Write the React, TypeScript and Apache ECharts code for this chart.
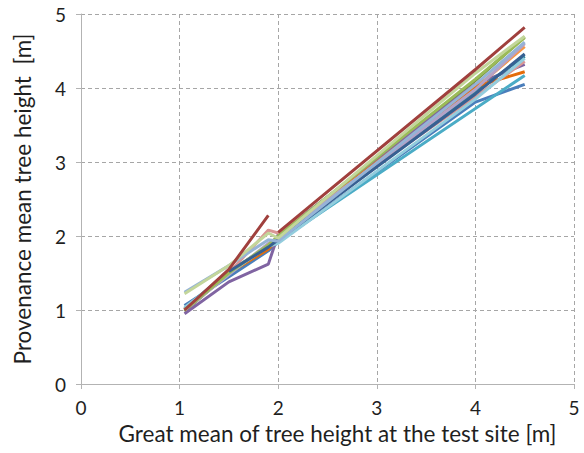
import React, { useEffect, useRef } from "react";
import * as echarts from "echarts";

const SITES = [1.05, 1.5, 1.9, 2.0, 4.0, 4.5];
const TICKS = [0, 1, 2, 3, 4, 5];

type S = { name: string; color: string; y: (number | null)[] };

const SERIES: S[] = [
  { name: "P1", color: "#4A7EBB", y: [1.06, 1.45, 1.8, 1.92, 3.81, 4.05] },
  { name: "P2", color: "#77933C", y: [0.98, 1.5, 1.85, 2.0, 4.1, 4.69] },
  { name: "P3", color: "#8064A2", y: [0.95, 1.38, 1.62, 2.02, 4.05, 4.32] },
  { name: "P4", color: "#4BACC6", y: [1.0, 1.5, 1.84, 1.93, null, 4.17] },
  { name: "P5", color: "#F79646", y: [1.01, 1.5, 1.84, 1.99, 4.0, 4.56] },
  { name: "P6", color: "#31859C", y: [1.02, 1.52, 1.86, 1.97, 3.95, 4.43] },
  { name: "P7", color: "#E46C0A", y: [1.0, 1.5, 1.82, 1.97, 4.02, 4.22] },
  { name: "P8", color: "#D99694", y: [1.0, 1.5, 2.08, 2.04, 3.88, 4.36] },
  { name: "P9", color: "#B3A2C7", y: [1.0, 1.48, 1.9, 1.98, 3.98, 4.6] },
  { name: "P10", color: "#93CDDD", y: [1.03, 1.5, 1.86, 1.9, 3.85, 4.4] },
  { name: "P11", color: "#9BBB59", y: [1.0, 1.5, 1.88, 2.0, 4.12, 4.68] },
  { name: "P12", color: "#376092", y: [null, 1.52, 1.85, 1.95, 3.92, 4.46] },
  { name: "P13", color: "#95B3D7", y: [1.24, 1.6, 1.95, 1.93, 4.05, 4.62] },
  { name: "P14", color: "#C3D69B", y: [1.22, 1.6, 2.04, 1.97, 4.2, 4.7] },
  { name: "P15a", color: "#A0403D", y: [1.0, 1.55, 2.28, null, null, null] },
  { name: "P15b", color: "#A0403D", y: [null, null, null, 2.05, 4.25, 4.82] },
];

const FONT = "Lato, 'Open Sans', sans-serif";
const TEXT = "#1f1f1f";

export default function App() {
  const ref = useRef<HTMLDivElement>(null);
  useEffect(() => {
    document.body.style.margin = "0";
    const chart = echarts.init(ref.current!, undefined, { renderer: "svg" });
    const axisCommon = {
      type: "value" as const,
      min: 0,
      max: 5,
      interval: 1,
      axisLine: { show: true, lineStyle: { color: "#B3B3B3", width: 1 } },
      axisTick: { show: true, length: 5, lineStyle: { color: "#B3B3B3" } },
      splitLine: { show: true, lineStyle: { color: "#A6A6A6", type: [4, 3] as any, width: 1 } },
      axisLabel: {
        color: TEXT,
        fontFamily: FONT,
        fontSize: 19,
        formatter: (v: number) => (TICKS.includes(v) ? String(v) : ""),
      },
      nameLocation: "middle" as const,
    };
    chart.setOption({
      animation: false,
      backgroundColor: "#ffffff",
      grid: { left: 81, right: 10, top: 14, bottom: 69, containLabel: false },
      xAxis: {
        ...axisCommon,
        name: "Great mean of tree height at the test site [m]",
        nameGap: 37,
        nameTextStyle: { color: TEXT, fontFamily: FONT, fontSize: 22.5, padding: [0, 0, 0, 20] },
        axisLabel: { ...axisCommon.axisLabel, margin: 14 },
      },
      yAxis: {
        ...axisCommon,
        name: "Provenance mean tree height  [m]",
        nameGap: 47,
        nameTextStyle: { color: TEXT, fontFamily: FONT, fontSize: 22.5 },
        axisLabel: { ...axisCommon.axisLabel, margin: 15 },
      },
      series: SERIES.map((s) => ({
        name: s.name,
        type: "line",
        symbol: "none",
        silent: true,
        data: SITES.map((x, i) => [x, s.y[i]]).filter((p) => p[1] !== null),
        lineStyle: { color: s.color, width: 3 },
        itemStyle: { color: s.color },
      })),
    });
    return () => chart.dispose();
  }, []);
  return <div ref={ref} style={{ width: 584, height: 453 }} />;
}
